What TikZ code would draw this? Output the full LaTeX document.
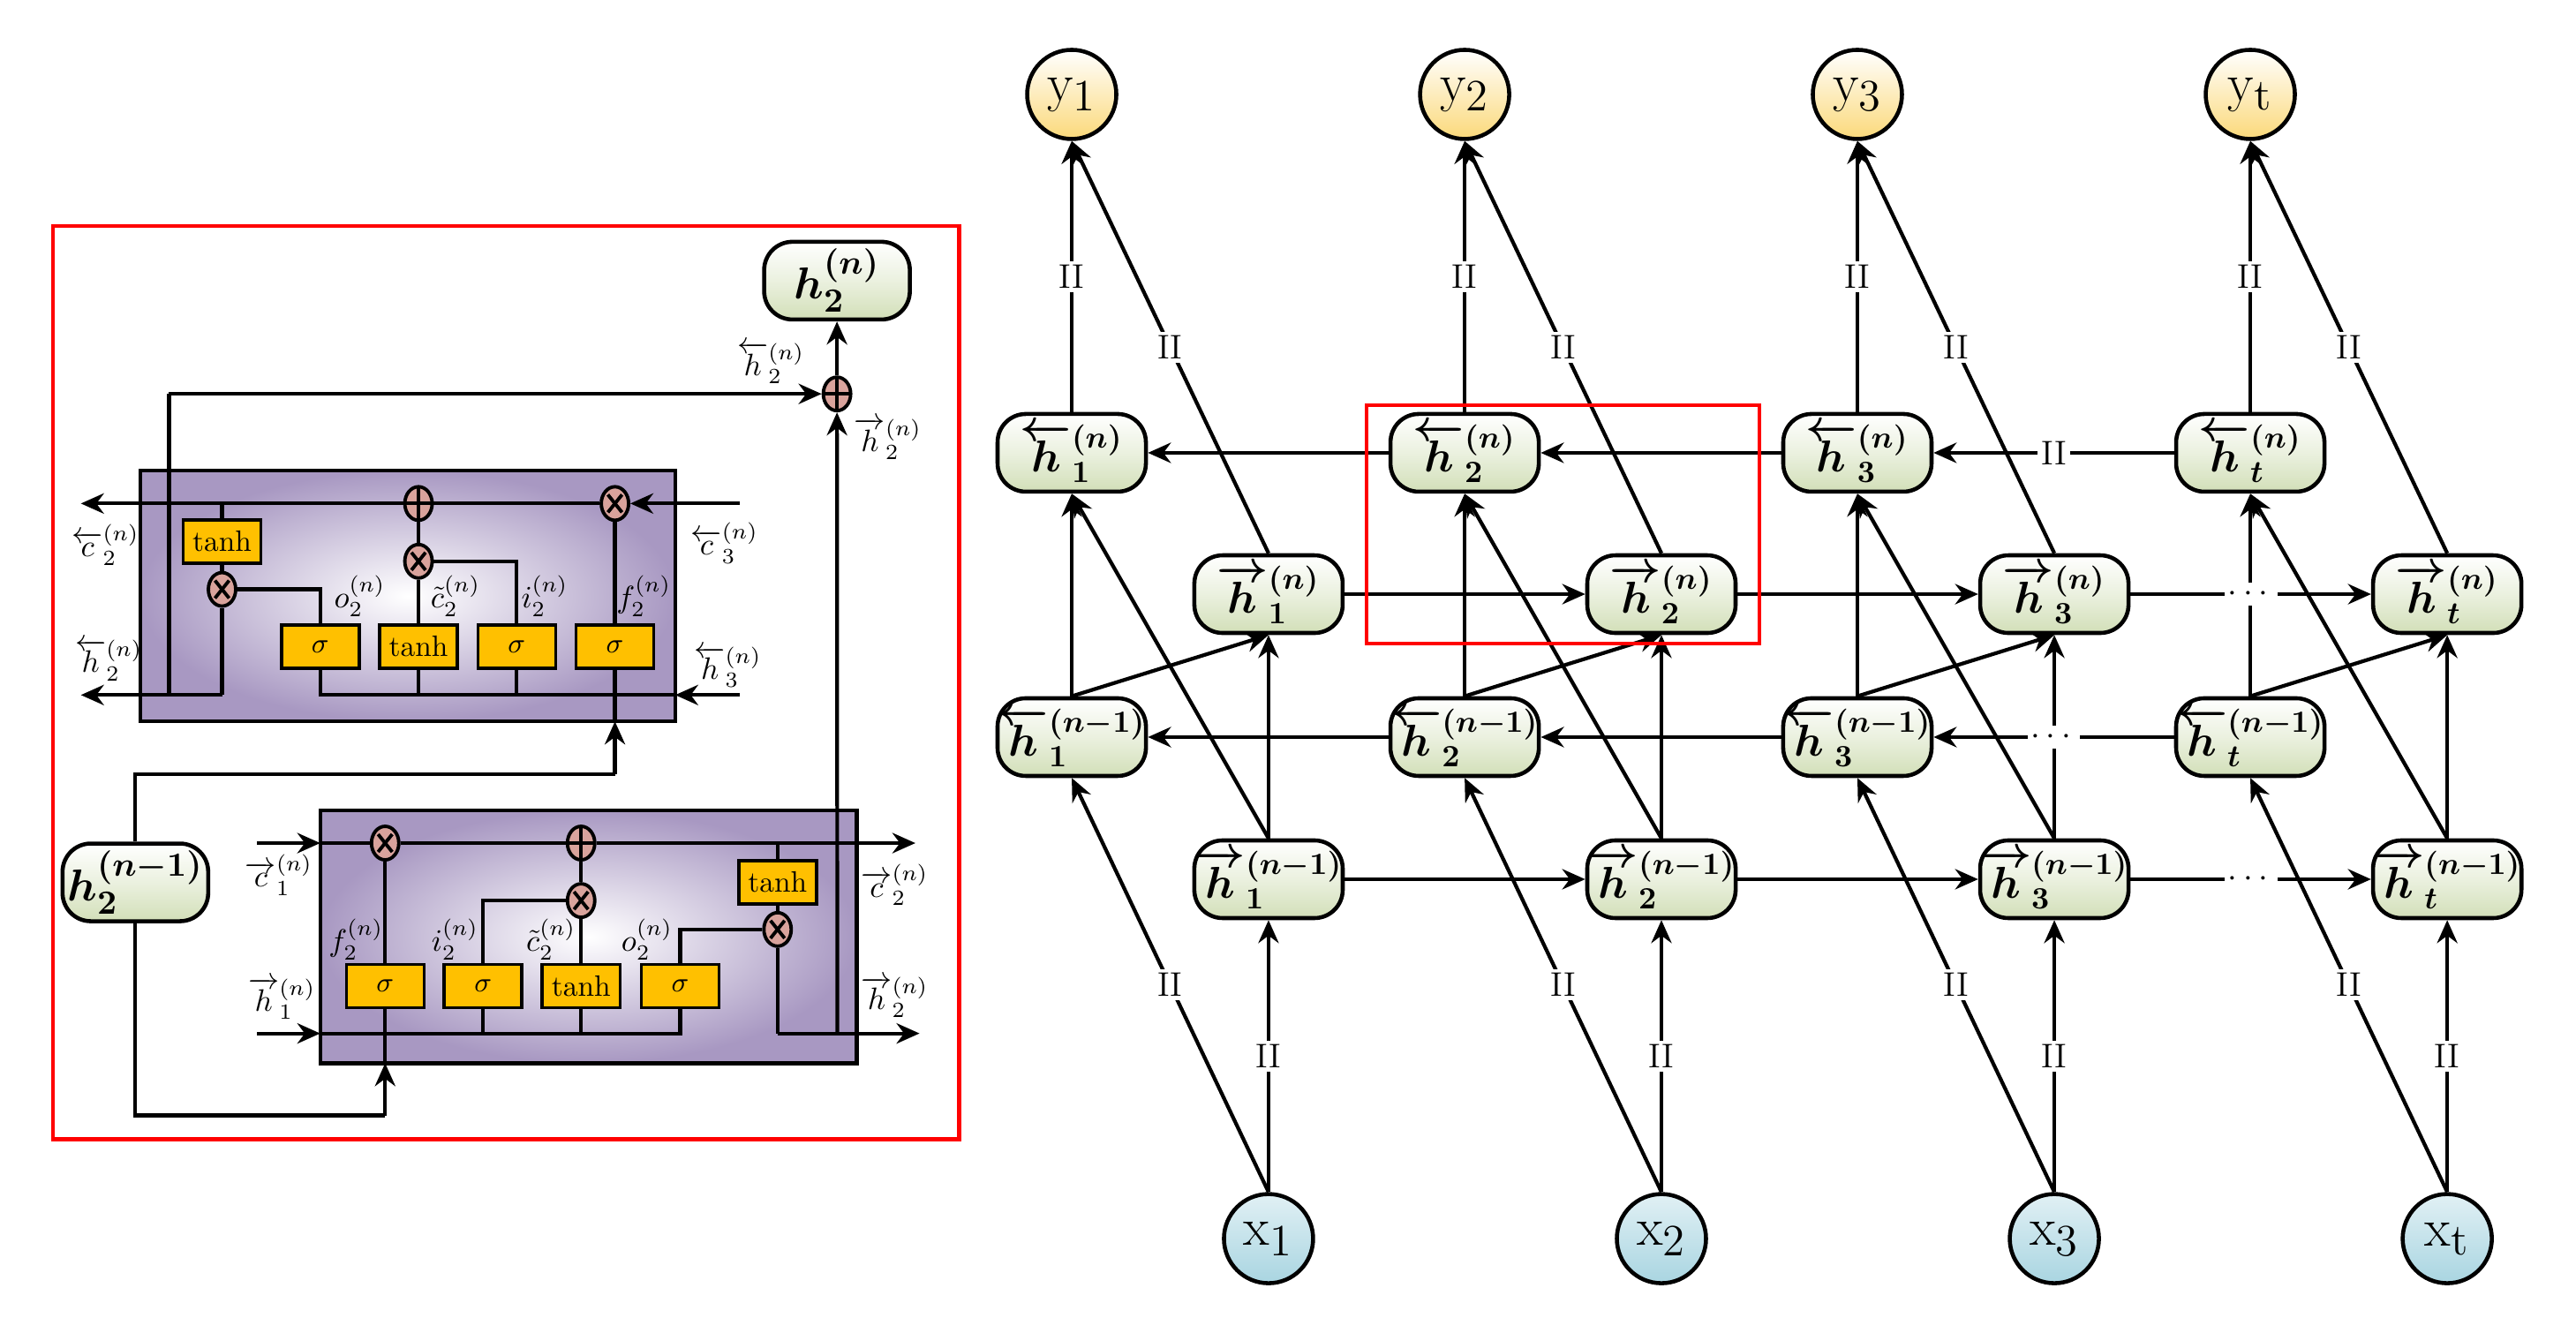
\documentclass[tikz,border=0pt]{standalone}
\usepackage{amsmath,amssymb}
\usetikzlibrary{arrows.meta,shapes.geometric}
\definecolor{hgreen}{HTML}{D2DFB8}
\definecolor{yyel}{HTML}{FBD97A}
\definecolor{xblue}{HTML}{A9D5E1}
\definecolor{gold}{HTML}{FFC000}
\definecolor{opink}{HTML}{D9A39C}
\definecolor{lpurp}{HTML}{A898C2}
\begin{document}
\begin{tikzpicture}[x=0.187mm,y=-0.187mm,
  ln/.style={line width=1.2pt},
  arr/.style={ln,-{Stealth[length=2.6mm,width=2.3mm]}},
  hn/.style={draw,line width=1.3pt,rounded corners=3.2mm,minimum width=16.8mm,minimum height=8.8mm,inner sep=0pt,
     top color=white,bottom color=hgreen,middle color=hgreen!45,font=\fontsize{14}{14}\selectfont\boldmath},
  yc/.style={circle,draw,line width=1.3pt,minimum size=10.1mm,inner sep=0pt,top color=white,bottom color=yyel,font=\fontsize{19}{19}\selectfont},
  xc/.style={circle,draw,line width=1.3pt,minimum size=10.1mm,inner sep=0pt,top color=xblue!35,bottom color=xblue,font=\fontsize{19}{19}\selectfont},
  lab/.style={fill=white,inner sep=1.2pt,font=\fontsize{11}{11}\selectfont},
  gate/.style={draw,line width=1pt,fill=gold,minimum width=8.8mm,minimum height=4.9mm,inner sep=0pt,font=\fontsize{9.5}{9.5}\selectfont},
  op/.style={ellipse,draw,line width=1.1pt,fill=opink,minimum width=3.1mm,minimum height=3.8mm,inner sep=0pt},
  mul/.style={op,path picture={\draw[line width=1.1pt] ([shift={(-0.8mm,-1mm)}]path picture bounding box.center) -- ++(1.6mm,2mm);
      \draw[line width=1.1pt] ([shift={(-0.8mm,1mm)}]path picture bounding box.center) -- ++(1.6mm,-2mm);}},
  add/.style={op,path picture={\draw[line width=1.1pt] ([shift={(-1.6mm,0)}]path picture bounding box.center) -- ++(3.2mm,0);
      \draw[line width=1.1pt] ([shift={(0,-2mm)}]path picture bounding box.center) -- ++(0,4mm);}},
  tl/.style={font=\fontsize{10}{10}\selectfont,inner sep=0pt}
]
\useasboundingbox (0,0) rectangle (1560.4,797.9);

% ================= LEFT PANEL =================
\draw[red,line width=1.3pt] (32,137) rectangle (581,690);

\shade[inner color=white,outer color=lpurp] (85,285) rectangle (409,437);
\draw[line width=1.3pt] (85,285) rectangle (409,437);
\shade[inner color=white,outer color=lpurp] (194,491) rectangle (519,644);
\draw[line width=1.3pt] (194,491) rectangle (519,644);

\node[hn,minimum width=16.5mm,font=\fontsize{15}{15}\selectfont\boldmath] (hout) at (507,170) {$h_2^{(n)}$};
\node[hn,minimum width=16.5mm,font=\fontsize{15}{15}\selectfont\boldmath] (hprev) at (82,534.5) {$h_2^{(n-1)}$};
\node[add] (sumo) at (507,238.6) {};

% upper box elements
\node[add] (ua) at (253.5,305) {};
\node[mul] (uf) at (372.5,305) {};
\node[mul] (ui) at (253.5,340) {};
\node[gate] (utanhc) at (134.5,328) {tanh};
\node[mul] (uo) at (134.5,357) {};
\node[gate] (ugo) at (194,391.6) {$\sigma$};
\node[gate] (ugc) at (253.5,391.6) {tanh};
\node[gate] (ugi) at (313,391.6) {$\sigma$};
\node[gate] (ugf) at (372.5,391.6) {$\sigma$};
\coordinate (uin) at (448,305);
\coordinate (uout) at (49,305);
\coordinate (uhin) at (448,421);
\coordinate (uhout) at (49,421);

\draw[arr] (uin) -- (uf);
\draw[ln] (uf) -- (ua) -- (134.5,305);
\draw[arr] (134.5,305) -- (uout);
\draw[ln] (134.5,305) -- (utanhc);
\draw[ln] (utanhc) -- (uo);
\draw[ln] (uo) -- (134.5,421);
\draw[arr] (134.5,421) -- (uhout);
\draw[ln] (uo) -- (194,357) -- (ugo);
\draw[ln] (ua) -- (ui) -- (ugc);
\draw[ln] (ui) -- (313,340) -- (ugi);
\draw[ln] (ugf) -- (uf);
\draw[arr] (uhin) -- (409,421);
\draw[ln] (409,421) -- (194,421) -- (ugo);
\draw[ln] (253.5,421) -- (ugc);
\draw[ln] (313,421) -- (ugi);
\draw[ln] (372.5,421) -- (ugf);
\draw[ln] (102.4,421) -- (102.4,238.6);
\draw[arr] (102.4,238.6) -- (sumo);
\draw[arr] (sumo) -- (hout);

% lower box elements
\node[mul] (lf) at (233.3,510.7) {};
\node[add] (la) at (352,510.7) {};
\node[mul] (li) at (352,545.5) {};
\node[gate] (ltanhc) at (471,534.5) {tanh};
\node[mul] (lo) at (471,563) {};
\node[gate] (lgf) at (233.3,597.3) {$\sigma$};
\node[gate] (lgi) at (292.6,597.3) {$\sigma$};
\node[gate] (lgc) at (352,597.3) {tanh};
\node[gate] (lgo) at (412,597.3) {$\sigma$};
\coordinate (lin) at (155.7,510.7);
\coordinate (lout) at (554.5,510.7);
\coordinate (lhin) at (155.7,626);
\coordinate (lhout) at (557,626);

\draw[arr] (lin) -- (194,510.7);
\draw[ln] (194,510.7) -- (lf) -- (la) -- (471,510.7);
\draw[arr] (471,510.7) -- (lout);
\draw[ln] (471,510.7) -- (ltanhc);
\draw[ln] (ltanhc) -- (lo);
\draw[ln] (lo) -- (471,626);
\draw[arr] (471,626) -- (lhout);
\draw[ln] (lo) -- (412,563) -- (lgo);
\draw[ln] (la) -- (li) -- (lgc);
\draw[ln] (li) -- (292.6,545.5) -- (lgi);
\draw[ln] (lgf) -- (lf);
\draw[arr] (lhin) -- (194,626);
\draw[ln] (194,626) -- (412,626) -- (lgo);
\draw[ln] (292.6,626) -- (lgi);
\draw[ln] (352,626) -- (lgc);
\draw[ln] (233.3,626) -- (lgf);
\draw[arr] (507.2,626) -- (sumo);

\draw[ln] (hprev.north) -- (82,469) -- (372.5,469);
\draw[arr] (372.5,469) -- (372.5,437);
\draw[ln] (372.5,437) -- (ugf);
\draw[ln] (hprev.south) -- (82,675.7) -- (233.3,675.7);
\draw[arr] (233.3,675.7) -- (233.3,644);
\draw[ln] (233.3,644) -- (lgf);

\node[tl] at (467,220) {$\overleftarrow{h}_2^{(n)}$};
\node[tl] at (538,266) {$\overrightarrow{h}_2^{(n)}$};
\node[tl] at (64,330) {$\overleftarrow{c}_2^{(n)}$};
\node[tl] at (439,329) {$\overleftarrow{c}_3^{(n)}$};
\node[tl] at (66,400) {$\overleftarrow{h}_2^{(n)}$};
\node[tl] at (441,404) {$\overleftarrow{h}_3^{(n)}$};
\node[tl] at (218,361) {$o_2^{(n)}$};
\node[tl] at (276,361) {$\tilde{c}_2^{(n)}$};
\node[tl] at (330,361) {$i_2^{(n)}$};
\node[tl] at (390,361) {$f_2^{(n)}$};
\node[tl] at (169,530) {$\overrightarrow{c}_1^{(n)}$};
\node[tl] at (542,536) {$\overrightarrow{c}_2^{(n)}$};
\node[tl] at (170.8,605) {$\overrightarrow{h}_1^{(n)}$};
\node[tl] at (542,604) {$\overrightarrow{h}_2^{(n)}$};
\node[tl] at (215.7,569) {$f_2^{(n)}$};
\node[tl] at (275.7,569) {$i_2^{(n)}$};
\node[tl] at (333.8,569) {$\tilde{c}_2^{(n)}$};
\node[tl] at (392,569) {$o_2^{(n)}$};

% ================= RIGHT PANEL =================
\foreach \i/\bx/\fx/\s in {1/649.2/768.4/1,2/887.2/1006.4/2,3/1125.1/1244.4/3,4/1363.1/1482.4/t}{
  \node[yc] (y\i) at (\bx,57.2) {$\mathrm{y}_{\mathrm{\s}}$};
  \node[hn] (hb\i) at (\bx,274.3) {$\overleftarrow{h}_{\s}^{(n)}$};
  \node[hn] (hf\i) at (\fx,359.9) {$\overrightarrow{h}_{\s}^{(n)}$};
  \node[hn] (gb\i) at (\bx,446.5) {$\overleftarrow{h}_{\s}^{(n-1)}$};
  \node[hn] (gf\i) at (\fx,532.6) {$\overrightarrow{h}_{\s}^{(n-1)}$};
  \node[xc] (x\i) at (\fx,750.3) {$\mathrm{x}_{\mathrm{\s}}$};
}
\foreach \i in {1,2,3,4}{
  \draw[arr] (hb\i.north) -- node[lab]{II} (y\i.south);
  \draw[arr] (hf\i.north) -- node[lab]{II} (y\i.south);
  \draw[arr] (x\i.north) -- node[lab]{II} (gf\i.south);
  \draw[arr] (x\i.north) -- node[lab]{II} (gb\i.south);
  \draw[arr] (gf\i.north) -- (hf\i.south);
  \draw[arr] (gb\i.north) -- (hb\i.south);
  \draw[arr] (gb\i.north) -- (hf\i.south);
  \draw[arr] (gf\i.north) -- (hb\i.south);
}
\foreach \a/\b in {1/2,2/3}{
  \draw[arr] (hb\b) -- (hb\a);
  \draw[arr] (gb\b) -- (gb\a);
  \draw[arr] (hf\a) -- (hf\b);
  \draw[arr] (gf\a) -- (gf\b);
}
\draw[arr] (hb4) -- node[lab]{II} (hb3);
\draw[arr] (gb4) -- node[lab]{$\cdots$} (gb3);
\draw[arr] (hf3) -- node[lab]{$\cdots$} (hf4);
\draw[arr] (gf3) -- node[lab]{$\cdots$} (gf4);

\draw[red,line width=1.3pt] (827.8,245.5) rectangle (1065.8,389.8);
\end{tikzpicture}
\end{document}
